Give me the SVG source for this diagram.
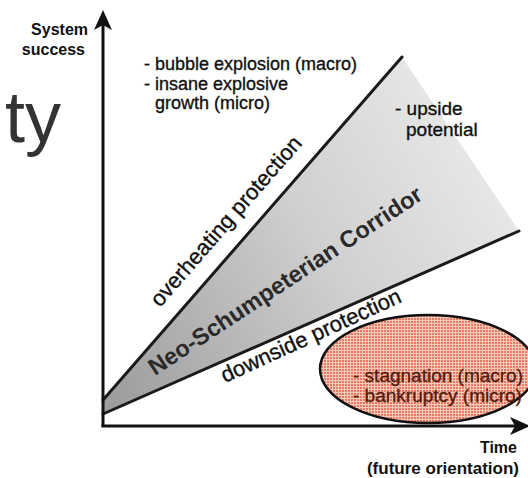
<svg xmlns="http://www.w3.org/2000/svg" width="528" height="478" viewBox="0 0 528 478">
  <defs>
    <linearGradient id="corrGrad" gradientUnits="userSpaceOnUse" x1="103" y1="400" x2="520" y2="150">
      <stop offset="0" stop-color="#9c9c9c"/>
      <stop offset="0.55" stop-color="#d0d0d0"/>
      <stop offset="1" stop-color="#ececec"/>
    </linearGradient>
    <pattern id="grid" patternUnits="userSpaceOnUse" width="3" height="3">
      <rect width="3" height="3" fill="#f7c9ba"/>
      <rect width="2" height="2" fill="#e67a62"/>
    </pattern>
    <marker id="arrow" markerUnits="userSpaceOnUse" markerWidth="20" markerHeight="18" viewBox="0 0 20 18" refX="5" refY="9" orient="auto">
      <path d="M0,0 L20,9 L0,18 L5,9 z" fill="#111"/>
    </marker>
    <style>
      .txt { font-family: "Liberation Sans", Arial, sans-serif; fill: #111; }
      .heavy { stroke: #111; stroke-width: 0.35; }
      .lbl { font-size: 18px; }
      .bold { font-weight: bold; }
      .edge { stroke: #1a1a1a; stroke-width: 3; fill: none; stroke-linecap: round; }
      .axis { stroke: #111; stroke-width: 3; fill: none; }
      .red { fill: #561a0c; stroke: #561a0c; stroke-width: 0.35; }
    </style>
  </defs>

  <g id="title-fragment">
    <text x="5" y="142" font-family="'Liberation Sans', Arial, sans-serif" font-size="72" fill="#333">ty</text>
  </g>

  <g id="corridor">
    <polygon points="103,400 402,57 519,231 103,414" fill="url(#corrGrad)"/>
    <line class="edge" x1="103" y1="400" x2="402" y2="57"/>
    <line class="edge" x1="103" y1="414" x2="519" y2="231"/>
  </g>

  <g id="stagnation">
    <ellipse cx="428" cy="369" rx="108" ry="54" fill="url(#grid)" stroke="#111" stroke-width="2.5"/>
    <text class="txt red" x="353" y="382" font-size="19">- stagnation (macro)</text>
    <text class="txt red" x="353" y="402" font-size="19">- bankruptcy (micro)</text>
  </g>

  <g id="connectors">
    <line class="axis" x1="103" y1="427" x2="103" y2="25" marker-end="url(#arrow)"/>
    <line class="axis" x1="101.5" y1="426" x2="515" y2="426" marker-end="url(#arrow)"/>
  </g>

  <g id="y-label">
    <text class="txt bold" x="88" y="35" font-size="16" text-anchor="end">System</text>
    <text class="txt bold" x="85" y="55" font-size="16" text-anchor="end">success</text>
  </g>

  <g id="x-label">
    <text class="txt bold" x="517" y="453" font-size="16" text-anchor="end">Time</text>
    <text class="txt bold" x="519" y="474" font-size="17" text-anchor="end">(future orientation)</text>
  </g>

  <g id="bubble">
    <text class="txt lbl heavy" x="144" y="70">- bubble explosion (macro)</text>
    <text class="txt lbl heavy" x="144" y="89.5">- insane explosive</text>
    <text class="txt lbl heavy" x="155" y="109">growth (micro)</text>
  </g>

  <g id="upside">
    <text class="txt heavy" x="395" y="115" font-size="19">- upside</text>
    <text class="txt heavy" x="406" y="136" font-size="19">potential</text>
  </g>

  <g id="edge-labels">
    <text class="txt heavy" font-size="22" transform="translate(160,308) rotate(-48.9)">overheating protection</text>
    <text class="txt bold" font-size="23.5" style="fill:#2a2a2a" transform="translate(155,376) rotate(-33.4)">Neo-Schumpeterian Corridor</text>
    <text class="txt heavy" font-size="22" transform="translate(225,383) rotate(-24.6)">downside protection</text>
  </g>
</svg>
